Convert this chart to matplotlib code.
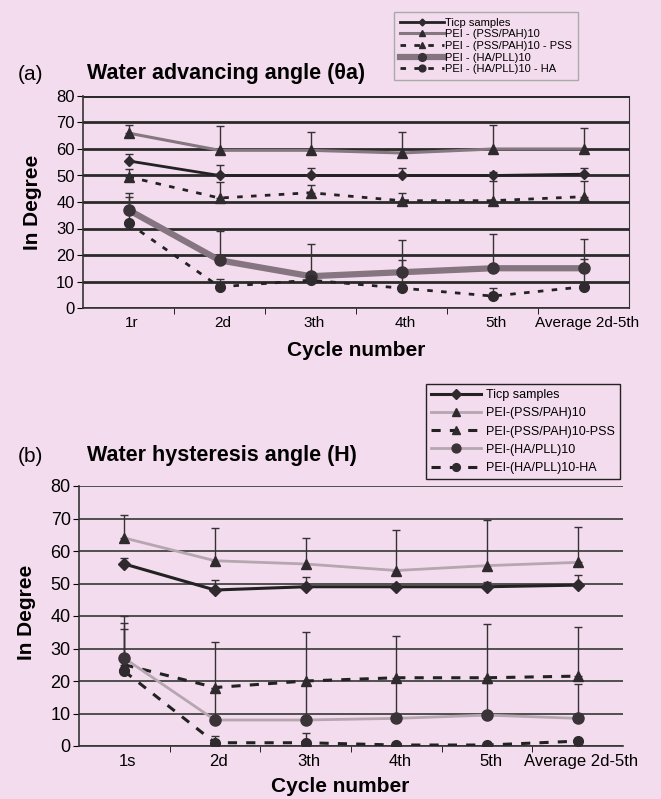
import matplotlib
matplotlib.use('Agg')
import matplotlib.pyplot as plt
from matplotlib.lines import Line2D
import numpy as np

W, H = 661, 799
BG = '#f4dcef'
NARROW = ['Liberation Sans Narrow', 'Liberation Sans', 'DejaVu Sans']
plt.rcParams['font.family'] = ['Liberation Sans', 'DejaVu Sans']

cycles_a = ['1r', '2d', '3th', '4th', '5th', 'Average 2d-5th']
cycles_b = ['1s', '2d', '3th', '4th', '5th', 'Average 2d-5th']

# (a) water advancing angle
adv_ticp = [55.5, 50, 50, 50, 50, 50.5]
adv_ticp_err = [2.5, 4, 3, 3, 1.5, 2.5]
adv_pss = [66, 59.5, 59.5, 58.5, 60, 60]
adv_pss_err = [3, 9, 7, 8, 9, 8]
adv_pss_top = [49.5, 41.5, 43.5, 40.5, 40.5, 42]
adv_pss_top_err = [3, 6, 3, 3, 7.5, 6]
adv_ha = [37, 18, 12, 13.5, 15, 15]
adv_ha_err = [6.5, 11, 12, 12, 13, 11]
adv_ha_top = [32, 8, 10.5, 7.5, 4.5, 8]
adv_ha_top_err = [10, 3, 2, 10.5, 3, 10.5]

# (b) water hysteresis angle
hys_ticp = [56, 48, 49, 49, 49, 49.5]
hys_ticp_err = [2, 3, 3, 1, 1.5, 3]
hys_pss = [64, 57, 56, 54, 55.5, 56.5]
hys_pss_err = [7, 10, 8, 12.5, 14, 11]
hys_pss_top = [25, 18, 20, 21, 21, 21.5]
hys_pss_top_err = [15, 14, 15, 13, 16.5, 15]
hys_ha = [27, 8, 8, 8.5, 9.5, 8.5]
hys_ha_err = [11, 10, 11, 11.5, 10, 10.5]
hys_ha_top = [23, 1, 1, 0.3, 0.3, 1.5]
hys_ha_top_err = [13, 2, 3, 0, 0, 0]

labels_a = ['Ticp samples', 'PEI - (PSS/PAH)10', 'PEI - (PSS/PAH)10 - PSS',
            'PEI - (HA/PLL)10', 'PEI - (HA/PLL)10 - HA']
labels_b = ['Ticp samples', 'PEI-(PSS/PAH)10', 'PEI-(PSS/PAH)10-PSS',
            'PEI-(HA/PLL)10', 'PEI-(HA/PLL)10-HA']


def fx(px):
    return px / W


def fy(py):
    return 1 - py / H


fig = plt.figure(figsize=(W / 100, H / 100), dpi=100, facecolor=BG)


def panel(rect, cats, series, styles, grid_lw, grid_c, box, tick_fs):
    ax = fig.add_axes(rect)
    ax.set_facecolor(BG)
    x = np.arange(len(cats))
    for (vals, err), st in zip(series, styles):
        ax.errorbar(x, vals, yerr=[np.zeros(len(err)), err], fmt='none',
                    ecolor='#333333', elinewidth=1, capsize=3, capthick=1, zorder=3)
        ax.plot(x, vals, **st, zorder=4)
    ax.set_xlim(-0.5, len(cats) - 0.5)
    ax.set_ylim(0, 80)
    ax.set_yticks(range(0, 81, 10))
    ax.yaxis.grid(True, color=grid_c, lw=grid_lw)
    ax.set_axisbelow(True)
    ax.set_xticks(x + 0.04)
    ax.set_xticklabels(cats, fontsize=tick_fs)
    ax.tick_params(axis='x', which='major', length=0, pad=6)
    ax.set_xticks(np.arange(0.5, len(cats) - 0.5, 1), minor=True)
    ax.tick_params(axis='x', which='minor', length=4, direction='out')
    ax.tick_params(axis='y', labelsize=tick_fs + 1, length=4, pad=2)
    for s in ['left', 'bottom']:
        ax.spines[s].set_linewidth(1.2)
        ax.spines[s].set_color('#333333')
    if box:
        ax.spines['right'].set_color('#333333')
        ax.spines['top'].set_visible(False)
    else:
        ax.spines['right'].set_visible(False)
        ax.spines['top'].set_visible(False)
    return ax


dark = '#222222'
mk = '#2e2a2d'
styles_a = [
    dict(color=dark, lw=2, marker='D', ms=5, mfc=mk, mec=mk),
    dict(color='#847780', lw=2.2, marker='^', ms=7, mfc=mk, mec=mk),
    dict(color=dark, lw=2, ls=(0, (2, 3)), marker='^', ms=7, mfc=mk, mec=mk),
    dict(color='#857580', lw=4.5, marker='o', ms=8, mfc='#3a3438', mec='#3a3438'),
    dict(color=dark, lw=2, ls=(0, (2, 3)), marker='o', ms=7, mfc=mk, mec=mk),
]
styles_b = [
    dict(color=dark, lw=2.2, marker='D', ms=6, mfc=mk, mec=mk),
    dict(color='#b5a6b0', lw=2, marker='^', ms=7, mfc=mk, mec=mk),
    dict(color=dark, lw=2.2, ls=(0, (3, 3)), marker='^', ms=7, mfc=mk, mec=mk),
    dict(color='#b5a6b0', lw=2, marker='o', ms=8, mfc='#3a3438', mec='#3a3438'),
    dict(color=dark, lw=2.2, ls=(0, (3, 3)), marker='o', ms=7, mfc=mk, mec=mk),
]

ax_a = panel([fx(83), fy(308), fx(629) - fx(83), fy(96) - fy(308)], cycles_a,
             [(adv_ticp, adv_ticp_err), (adv_pss, adv_pss_err),
              (adv_pss_top, adv_pss_top_err), (adv_ha, adv_ha_err),
              (adv_ha_top, adv_ha_top_err)],
             styles_a, 2, '#2a2a2a', True, 11)
ax_a.axhline(80, color='#2a2a2a', lw=2)

ax_b = panel([fx(79), fy(746), fx(623) - fx(79), fy(486) - fy(746)], cycles_b,
             [(hys_ticp, hys_ticp_err), (hys_pss, hys_pss_err),
              (hys_pss_top, hys_pss_top_err), (hys_ha, hys_ha_err),
              (hys_ha_top, hys_ha_top_err)],
             styles_b, 1.3, '#444444', False, 12)

# titles and axis labels
fig.text(fx(18), fy(74), '(a)', fontsize=15, va='center', family=NARROW)
fig.text(fx(87), fy(74), 'Water advancing angle (\u03b8a)', fontsize=15.5,
         fontweight='bold', va='center', family=NARROW)
fig.text(fx(18), fy(456), '(b)', fontsize=15, va='center', family=NARROW)
fig.text(fx(87), fy(456), 'Water hysteresis angle (H)', fontsize=15.5,
         fontweight='bold', va='center', family=NARROW)
fig.text(fx(32), fy(202), 'In Degree', rotation=90, fontsize=15,
         fontweight='bold', va='center', ha='center')
fig.text(fx(26), fy(612), 'In Degree', rotation=90, fontsize=15,
         fontweight='bold', va='center', ha='center')
fig.text(fx(356), fy(350), 'Cycle number', fontsize=15, fontweight='bold',
         ha='center', va='center')
fig.text(fx(340), fy(787), 'Cycle number', fontsize=15, fontweight='bold',
         ha='center', va='center')


def handles(styles):
    return [Line2D([], [], **st) for st in styles]


leg_a = fig.legend(handles(styles_a), labels_a, loc='upper left',
                   bbox_to_anchor=(fx(394), fy(12)), borderaxespad=0,
                   prop=dict(family=NARROW, size=8), handlelength=4,
                   handletextpad=0.1, labelspacing=0.15, borderpad=0.5,
                   markerscale=0.7,
                   fancybox=False, framealpha=1, facecolor=BG, edgecolor='#aaaaaa')
leg_b = fig.legend(handles(styles_b), labels_b, loc='upper left',
                   bbox_to_anchor=(fx(426), fy(384)), borderaxespad=0,
                   prop=dict(family=NARROW, size=9), handlelength=4,
                   handletextpad=0.4, labelspacing=0.5, borderpad=0.4,
                   markerscale=0.8,
                   fancybox=False, framealpha=1, facecolor=BG, edgecolor='#222222')

fig.savefig('out.png', dpi=100, facecolor=BG)
